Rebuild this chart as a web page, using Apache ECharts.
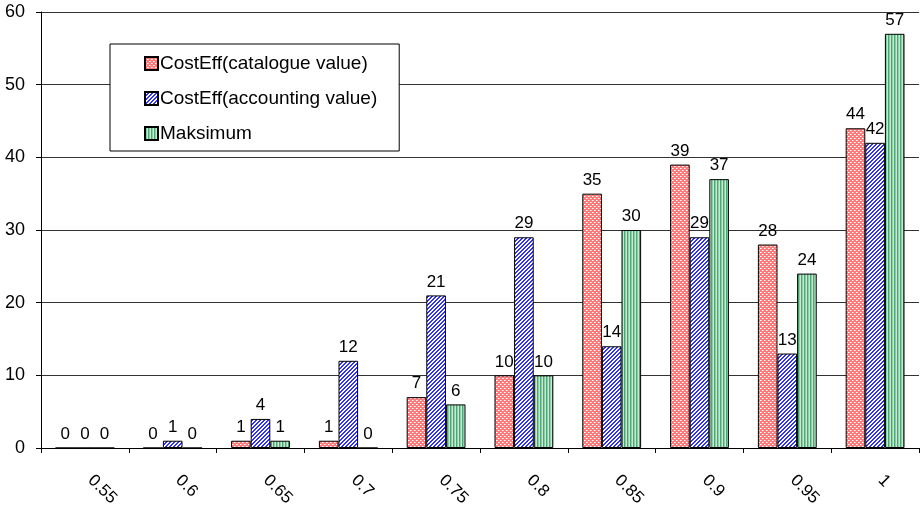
<!DOCTYPE html>
<html>
<head>
<meta charset="utf-8">
<script src="https://cdn.jsdelivr.net/npm/echarts@6/dist/echarts.min.js"></script>
<style>
  html, body { margin: 0; padding: 0; background: #fff; }
  #chart { width: 921px; height: 508px; }
</style>
</head>
<body>
<div id="chart"></div>
<script>
const categories = ['0.55', '0.6', '0.65', '0.7', '0.75', '0.8', '0.85', '0.9', '0.95', '1'];
const catalogueValues = [0, 0, 1, 1, 7, 10, 35, 39, 28, 44];
const accountingValues = [0, 1, 4, 12, 21, 29, 14, 29, 13, 42];
const maksimumValues = [0, 0, 1, 0, 6, 10, 30, 37, 24, 57];
const seriesNames = ['CostEff(catalogue value)', 'CostEff(accounting value)', 'Maksimum'];
const yTicks = { min: 0, max: 60, interval: 10 };

// Small repeating tiles used as bar fills
function makeTile(size, draw) {
  const c = document.createElement('canvas');
  c.width = size; c.height = size;
  const ctx = c.getContext('2d');
  draw(ctx);
  return c;
}

// dotted pink
const dotTile = makeTile(4, ctx => {
  ctx.fillStyle = '#ff7a7a';
  ctx.fillRect(0, 0, 4, 4);
  ctx.fillStyle = '#ffffff';
  ctx.fillRect(0, 0, 1, 1);
  ctx.fillRect(2, 2, 1, 1);
  ctx.fillStyle = '#ffc4c4';
  ctx.fillRect(1, 0, 1, 1);
  ctx.fillRect(3, 2, 1, 1);
});

// diagonal blue hatch
const hatchTile = makeTile(4, ctx => {
  ctx.fillStyle = '#ffffff';
  ctx.fillRect(0, 0, 4, 4);
  ctx.fillStyle = '#3030ff';
  for (let i = 0; i < 4; i++) {
    ctx.fillRect((3 - i + 4) % 4, i, 1, 1);
    ctx.fillRect((4 - i + 4) % 4, i, 1, 1);
  }
});

// vertical green stripes
const stripeTile = makeTile(3, ctx => {
  ctx.fillStyle = '#c4eacf';
  ctx.fillRect(0, 0, 3, 3);
  ctx.fillStyle = '#4ea676';
  ctx.fillRect(0, 0, 1, 3);
  ctx.fillStyle = '#8ccca6';
  ctx.fillRect(1, 0, 1, 3);
});

const fills = [dotTile, hatchTile, stripeTile];
const dataSets = [catalogueValues, accountingValues, maksimumValues];

const font = 'Liberation Sans, Arial, sans-serif';
const fs = 17;

const chart = echarts.init(document.getElementById('chart'), null, { renderer: 'canvas' });

chart.setOption({
  animation: false,
  backgroundColor: '#ffffff',
  textStyle: { fontFamily: font },
  grid: { left: 41, right: 2, top: 12, bottom: 60, containLabel: false, outerBoundsMode: 'none' },
  legend: {
    orient: 'vertical',
    left: 110,
    top: 44,
    padding: [10, 22, 8, 34],
    itemGap: 16,
    itemWidth: 13,
    itemHeight: 13,
    backgroundColor: '#ffffff',
    borderColor: '#000000',
    borderWidth: 1,
    borderRadius: 0,
    icon: 'rect',
    textStyle: { fontFamily: font, fontSize: 19, color: '#000', padding: [0, 0, 0, -3] },
    data: seriesNames
  },
  xAxis: {
    type: 'category',
    data: categories,
    axisLine: { lineStyle: { color: '#000', width: 1 } },
    axisTick: { show: true, inside: false, length: 5, lineStyle: { color: '#000' } },
    axisLabel: {
      rotate: -45,
      margin: 24,
      padding: [0, 0, 0, 8],
      fontSize: fs,
      fontFamily: font,
      color: '#000'
    },
    splitLine: { show: false }
  },
  yAxis: {
    type: 'value',
    min: yTicks.min,
    max: yTicks.max,
    interval: yTicks.interval,
    axisLine: { show: true, lineStyle: { color: '#000', width: 1 } },
    axisTick: { show: true, inside: false, length: 5, lineStyle: { color: '#000' } },
    axisLabel: { fontSize: 18, fontFamily: font, color: '#000', margin: 16 },
    splitLine: { show: true, lineStyle: { color: '#333', width: 1 } }
  },
  series: dataSets.map((vals, i) => ({
    name: seriesNames[i],
    type: 'bar',
    data: vals,
    barGap: '0%',
    barCategoryGap: '33%',
    itemStyle: {
      color: { image: fills[i], repeat: 'repeat' },
      borderColor: '#000',
      borderWidth: 1
    },
    label: {
      show: true,
      position: 'top',
      distance: 5,
      fontSize: fs,
      fontFamily: font,
      color: '#000'
    }
  }))
});
</script>
</body>
</html>
